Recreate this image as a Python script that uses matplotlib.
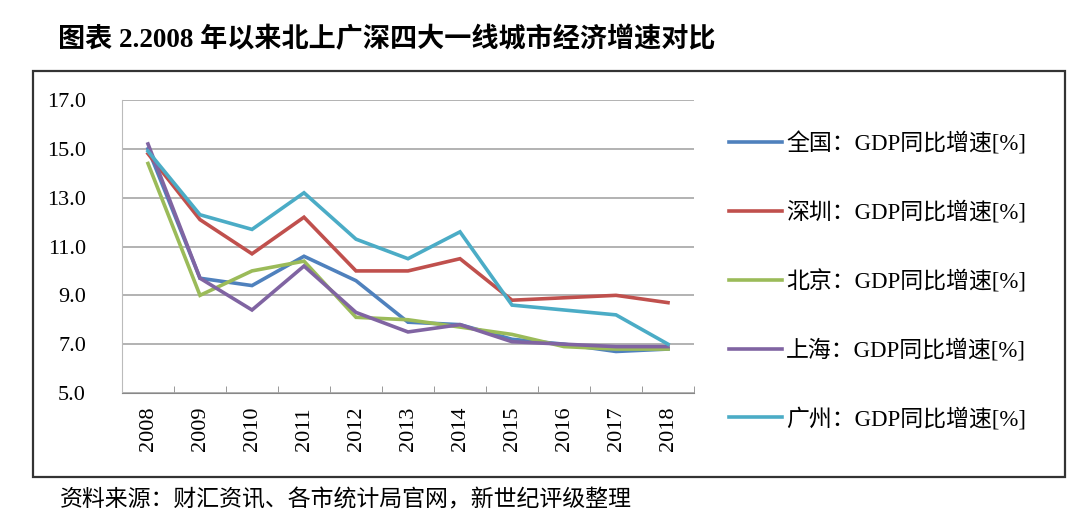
import numpy as np
import matplotlib
matplotlib.use('Agg')
import matplotlib.pyplot as plt
from matplotlib.patches import Rectangle
from matplotlib.ticker import FixedLocator

plt.rcParams['font.family'] = ['Liberation Serif', 'Noto Sans CJK SC', 'DejaVu Sans']

years = ['2008', '2009', '2010', '2011', '2012', '2013', '2014', '2015', '2016', '2017', '2018']

# GDP growth, %
national = [15.0, 9.7, 9.4, 10.6, 9.6, 7.9, 7.8, 7.2, 7.0, 6.7, 6.8]
shenzhen = [14.8, 12.1, 10.7, 12.2, 10.0, 10.0, 10.5, 8.8, 8.9, 9.0, 8.7]
beijing = [14.4, 9.0, 10.0, 10.4, 8.1, 8.0, 7.7, 7.4, 6.9, 6.8, 6.8]
shanghai = [15.2, 9.7, 8.4, 10.2, 8.3, 7.5, 7.8, 7.1, 7.0, 6.9, 6.9]
guangzhou = [14.9, 12.3, 11.7, 13.2, 11.3, 10.5, 11.6, 8.6, 8.4, 8.2, 7.0]

labels = ['全国：GDP同比增速[%]', '深圳：GDP同比增速[%]', '北京：GDP同比增速[%]',
          '上海：GDP同比增速[%]', '广州：GDP同比增速[%]']
colors = ['#4F81BD', '#C0504D', '#9BBB59', '#8064A2', '#4BACC6']

fig = plt.figure(figsize=(10.8, 5.29), dpi=100)

# outer frame
fig.patches.append(Rectangle((33 / 1080, 1 - 477 / 529), (1065 - 33) / 1080, (477 - 71) / 529,
                             transform=fig.transFigure, fill=False, edgecolor='#333333', lw=1.6))

ax = fig.add_axes([122 / 1080, 1 - 393 / 529, (694 - 122) / 1080, (393 - 100) / 529])

x = np.arange(len(years))
for series, lab, col in zip([national, shenzhen, beijing, shanghai, guangzhou], labels, colors):
    ax.plot(x, series, color=col, lw=2.6, label=lab, solid_joinstyle='miter')

ax.set_xlim(-0.5, len(years) - 0.5)
ax.set_ylim(5, 17)
ax.set_yticks(np.arange(5, 17.1, 2))
ax.set_yticklabels(['%.1f' % v for v in np.arange(5, 17.1, 2)], fontsize=16)
ax.set_xticks(x)
ax.set_xticklabels(years, rotation=90, fontsize=16)
ax.xaxis.set_minor_locator(FixedLocator(np.arange(-0.5, len(years), 1)))
ax.tick_params(axis='x', which='major', length=0, pad=10)
ax.tick_params(axis='x', which='minor', direction='in', length=5, color='#888888')
ax.tick_params(axis='y', length=0, pad=26)
ax.grid(axis='y', color='#A6A6A6', lw=1.2)
ax.set_axisbelow(True)
for s in ['top', 'right']:
    ax.spines[s].set_visible(False)
ax.spines['bottom'].set_color('#888888')
ax.spines['left'].set_color('#BBBBBB')

fig.legend(loc='upper left', bbox_to_anchor=(729 / 1080, 1 - 132 / 529), frameon=False,
           handlelength=2.3, handletextpad=0.2, labelspacing=2.0, borderpad=0,
           borderaxespad=0,
           prop={'family': ['Liberation Serif', 'Noto Sans CJK SC'], 'size': 16.5})

fig.text(58 / 1080, 1 - 40 / 529, '图表 2.2008 年以来北上广深四大一线城市经济增速对比',
         fontsize=19.5, fontweight='bold', va='center', ha='left')
fig.text(60 / 1080, 1 - 500 / 529, '资料来源：财汇资讯、各市统计局官网，新世纪评级整理',
         fontsize=16.5, va='center', ha='left', family=['Noto Sans CJK SC'])

fig.savefig('out.png', dpi=100)
